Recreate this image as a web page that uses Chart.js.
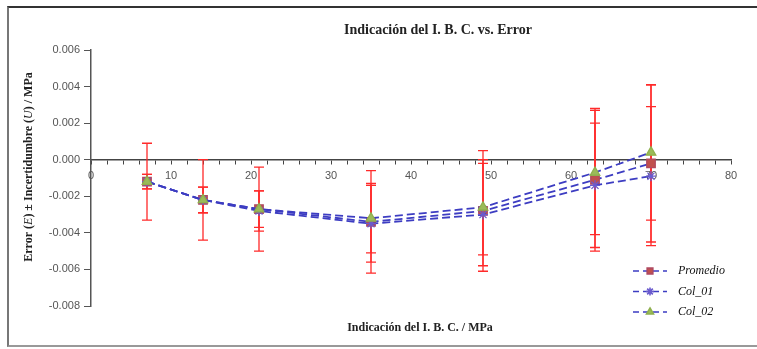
<!DOCTYPE html>
<html>
<head>
<meta charset="utf-8">
<script src="https://cdn.jsdelivr.net/npm/chart.js@4.4.1/dist/chart.umd.min.js"></script>
<style>
body { margin: 0; background: #fff; }
#wrap { position: relative; width: 757px; height: 349px; overflow: hidden; }
#frame { position: absolute; left: 7px; top: 6px; width: 760px; height: 337px;
  border-top: 2px solid #333; border-left: 2px solid #777; border-bottom: 2px solid #999;
  pointer-events: none; }
</style>
</head>
<body>
<div id="wrap">
  <canvas id="ibcChart" width="757" height="349"></canvas>
  <div id="frame"></div>
</div>
<script>
// indicación del I.B.C. (MPa)
const indicacion = [7, 14, 21, 35, 49, 63, 70];
// error (MPa)
const promedio = [-0.0012, -0.0022, -0.0027, -0.0034, -0.0028, -0.0011, -0.0002];
const col01 = [-0.0012, -0.0022, -0.0028, -0.0035, -0.0030, -0.0014, -0.0009];
const col02 = [-0.0012, -0.0022, -0.0027, -0.0032, -0.0026, -0.0007, 0.0004];
// incertidumbre U (MPa)
const uPromedio = [0.0021, 0.0022, 0.0023, 0.0028, 0.0033, 0.0039, 0.0043];
const uCol01 = [0.0004, 0.0007, 0.0011, 0.0021, 0.0028, 0.0034, 0.0038];
const uCol02 = [0.0004, 0.0007, 0.0010, 0.0019, 0.0026, 0.0034, 0.0037];
const seriesNames = ['Promedio', 'Col_01', 'Col_02'];

const titulo = 'Indicación del I. B. C. vs. Error';
const tituloX = 'Indicación del I. B. C. / MPa';
const tituloY = [['Error (', 'b'], ['E', 'i'], [') ± Incertidumbre (', 'b'], ['U', 'i'], [') / MPa', 'b']];

const lineBlue = '#3d3dc2';
const pts = (ys) => indicacion.map((x, i) => ({ x: x, y: ys[i] }));

function serie(name, ys, errs, style, fill, border, radius, order) {
    return {
        label: name,
        data: pts(ys),
        errors: errs,
        borderColor: lineBlue,
        borderWidth: 1.8,
        borderDash: [8, 4],
        fill: false,
        tension: 0,
        pointStyle: style,
        pointRadius: radius,
        pointBackgroundColor: fill,
        pointBorderColor: border,
        pointBorderWidth: 1.3,
        order: order
    };
}

const errorBars = {
    id: 'errorBars',
    beforeDatasetsDraw(chart) {
        const ctx = chart.ctx;
        const y = chart.scales.y;
        ctx.save();
        ctx.strokeStyle = '#ff2a2a';
        ctx.lineWidth = 1.3;
        chart.data.datasets.forEach((ds, i) => {
            const meta = chart.getDatasetMeta(i);
            ds.data.forEach((p, j) => {
                const px = meta.data[j].x;
                const top = y.getPixelForValue(p.y + ds.errors[j]);
                const bot = y.getPixelForValue(p.y - ds.errors[j]);
                ctx.beginPath();
                ctx.moveTo(px, top); ctx.lineTo(px, bot);
                ctx.moveTo(px - 5, top); ctx.lineTo(px + 5, top);
                ctx.moveTo(px - 5, bot); ctx.lineTo(px + 5, bot);
                ctx.stroke();
            });
        });
        ctx.restore();
    }
};

const textos = {
    id: 'textos',
    afterDraw(chart) {
        const ctx = chart.ctx;
        const a = chart.chartArea;
        ctx.save();
        ctx.fillStyle = '#222';
        ctx.textBaseline = 'middle';
        ctx.textAlign = 'center';
        ctx.font = 'bold 14px "Liberation Serif"';
        ctx.fillText(titulo, a.left + 347, a.top - 20);
        ctx.font = 'bold 12px "Liberation Serif"';
        ctx.fillText(tituloX, a.left + 329, a.bottom + 22);

        // y axis title, mixed bold / italic
        const fontOf = (k) => k === 'i' ? 'italic 12px "Liberation Serif"' : 'bold 12px "Liberation Serif"';
        let total = 0;
        tituloY.forEach(([t, k]) => { ctx.font = fontOf(k); total += ctx.measureText(t).width; });
        ctx.translate(a.left - 62, (a.top + a.bottom) / 2 - 11);
        ctx.rotate(-Math.PI / 2);
        ctx.textAlign = 'left';
        let cx = -total / 2;
        tituloY.forEach(([t, k]) => {
            ctx.font = fontOf(k);
            ctx.fillText(t, cx, 0);
            cx += ctx.measureText(t).width;
        });
        ctx.restore();

        // legend
        ctx.save();
        const x0 = a.right - 98;
        chart.data.datasets.forEach((ds, i) => {
            const yy = a.bottom - 35 + i * 20.5;
            ctx.strokeStyle = lineBlue;
            ctx.lineWidth = 1.6;
            ctx.setLineDash([6, 4]);
            ctx.beginPath();
            ctx.moveTo(x0, yy); ctx.lineTo(x0 + 34, yy);
            ctx.stroke();
            ctx.setLineDash([]);
            ctx.fillStyle = ds.pointBackgroundColor;
            ctx.strokeStyle = ds.pointBorderColor;
            Chart.helpers.drawPoint(ctx, { pointStyle: ds.pointStyle, radius: 4, rotation: 0, borderWidth: 1 }, x0 + 17, yy);
            ctx.fillStyle = '#111';
            ctx.font = 'italic 12px "Liberation Serif"';
            ctx.textBaseline = 'middle';
            ctx.fillText(seriesNames[i], x0 + 45, yy);
        });
        ctx.restore();
    }
};

const ctx = document.getElementById('ibcChart').getContext('2d');
const ibcChart = new Chart(ctx, {
    type: 'line',
    data: {
        datasets: [
            serie(seriesNames[0], promedio, uPromedio, 'rect', '#c0504d', '#b04a60', 6, 2),
            serie(seriesNames[1], col01, uCol01, 'star', '#6a5acd', '#6a5acd', 5, 1),
            serie(seriesNames[2], col02, uCol02, 'triangle', '#9bbb59', '#8fb04e', 5.5, 0)
        ]
    },
    options: {
        responsive: false,
        animation: false,
        layout: { padding: { left: 10, right: 26, top: 50, bottom: 43 } },
        plugins: {
            legend: { display: false },
            tooltip: { enabled: false }
        },
        scales: {
            x: {
                type: 'linear',
                min: 0,
                max: 80,
                position: { y: 0 },
                grid: { drawOnChartArea: false, drawTicks: true, tickLength: 4, color: '#444' },
                border: { color: '#444', width: 1.5 },
                ticks: {
                    stepSize: 2,
                    autoSkip: false,
                    maxRotation: 0,
                    padding: 6,
                    color: '#555',
                    font: { family: '"Liberation Sans"', size: 11 },
                    callback: (v) => (v % 10 === 0 ? String(v) : '')
                }
            },
            y: {
                min: -0.008,
                max: 0.006,
                afterFit: (s) => { s.width = 81; },
                grid: { drawOnChartArea: false, drawTicks: true, tickLength: 7, color: '#555' },
                border: { color: '#555', width: 1.5 },
                ticks: {
                    stepSize: 0.002,
                    padding: 4,
                    color: '#555',
                    font: { family: '"Liberation Sans"', size: 11 },
                    callback: (v) => (Math.abs(v) < 1e-9 ? '0.000' : v.toFixed(3))
                }
            }
        }
    },
    plugins: [errorBars, textos]
});
</script>
</body>
</html>
